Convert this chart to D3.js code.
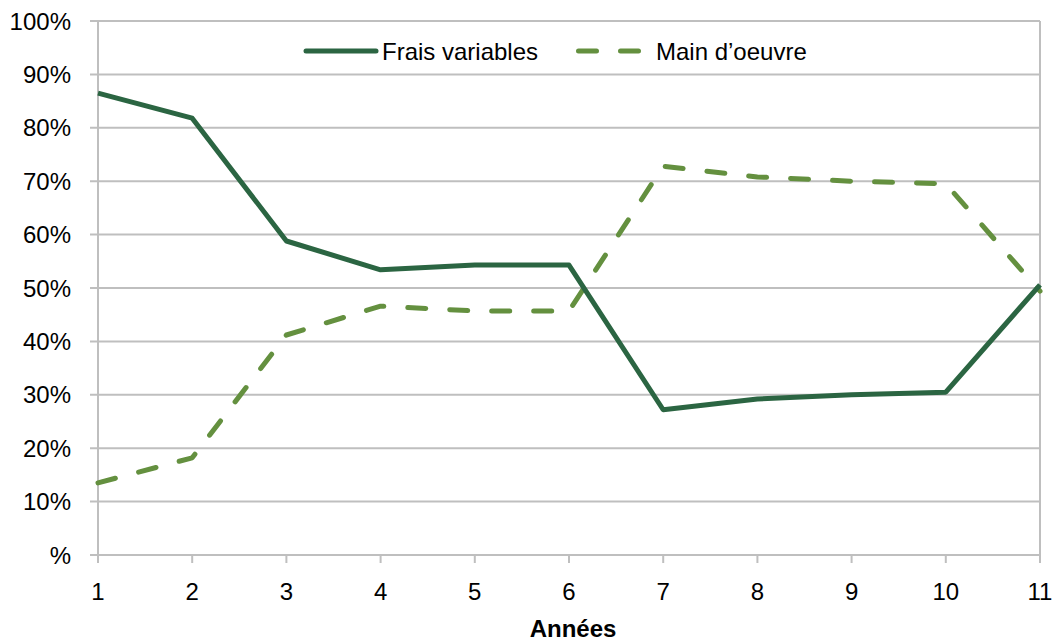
<!DOCTYPE html>
<html><head><meta charset="utf-8">
<script src="https://cdn.jsdelivr.net/npm/d3@7"></script>
<style>body{margin:0;background:#fff}svg{display:block;font-family:"Liberation Sans",Arial,sans-serif}</style>
</head><body>
<svg id="c" width="1058" height="641"></svg>
<script>
const years = [1,2,3,4,5,6,7,8,9,10,11];
const fraisVariables = [86.5,81.8,58.8,53.4,54.3,54.3,27.2,29.2,30.0,30.5,50.6];
const mainOeuvre = [13.5,18.2,41.2,46.6,45.7,45.7,72.8,70.8,70.0,69.5,49.4];
const yTicks = [0,10,20,30,40,50,60,70,80,90,100];
const seriesNames = ["Frais variables","Main d\u2019oeuvre"];

const svg = d3.select("#c");
const L=98, R=1040, T=21, B=555;
const x = d3.scaleLinear().domain([1,11]).range([L,R]);
const y = d3.scaleLinear().domain([0,100]).range([B,T]);
const grid="#bfbfbf";
const FS=24;

svg.append("g").selectAll("line").data(yTicks).join("line")
  .attr("x1",L-8).attr("x2",R).attr("y1",d=>y(d)).attr("y2",d=>y(d))
  .attr("stroke",grid).attr("stroke-width",2);
svg.append("line").attr("x1",R).attr("x2",R).attr("y1",T).attr("y2",B+8).attr("stroke",grid).attr("stroke-width",2);
svg.append("line").attr("x1",L).attr("x2",L).attr("y1",T).attr("y2",B+8).attr("stroke",grid).attr("stroke-width",2);
svg.append("g").selectAll("line").data(years).join("line")
  .attr("x1",d=>x(d)).attr("x2",d=>x(d)).attr("y1",B).attr("y2",B+8)
  .attr("stroke",grid).attr("stroke-width",2);
svg.append("g").selectAll("text").data(yTicks).join("text")
  .attr("x",71).attr("y",d=>y(d)).attr("dy","0.36em").attr("text-anchor","end")
  .attr("font-size",FS).attr("fill","#000")
  .text(d=>d===0?"%":d+"%");
svg.append("g").selectAll("text").data(years).join("text")
  .attr("x",d=>x(d)).attr("y",591).attr("dy","0.36em").attr("text-anchor","middle")
  .attr("font-size",FS).attr("fill","#000").text(d=>d);
svg.append("text").attr("x",573).attr("y",628).attr("dy","0.36em").attr("text-anchor","middle")
  .attr("font-size",FS).attr("font-weight","bold").text("Ann\u00e9es");

const line = d3.line().x((d,i)=>x(years[i])).y(d=>y(d));
const c1="#2b6542", c2="#64903f";
svg.append("path").attr("d",line(mainOeuvre)).attr("fill","none").attr("stroke",c2)
  .attr("stroke-width",5).attr("stroke-dasharray","18,24").attr("stroke-linecap","round").attr("stroke-linejoin","round");
svg.append("path").attr("d",line(fraisVariables)).attr("fill","none").attr("stroke",c1)
  .attr("stroke-width",5).attr("stroke-linecap","butt").attr("stroke-linejoin","round");

const ly=51;
svg.append("rect").attr("x",296).attr("y",34).attr("width",530).attr("height",36).attr("fill","#fff");
svg.append("line").attr("x1",306).attr("x2",376).attr("y1",ly).attr("y2",ly).attr("stroke",c1).attr("stroke-width",5).attr("stroke-linecap","round");
svg.append("text").attr("x",382).attr("y",ly).attr("dy","0.36em").attr("font-size",FS).text(seriesNames[0]);
svg.append("line").attr("x1",578.5).attr("x2",640).attr("y1",ly).attr("y2",ly).attr("stroke",c2).attr("stroke-width",5)
  .attr("stroke-linecap","round").attr("stroke-dasharray","18,24");
svg.append("text").attr("x",656).attr("y",ly).attr("dy","0.36em").attr("font-size",FS).text(seriesNames[1]);
</script>
</body></html>
